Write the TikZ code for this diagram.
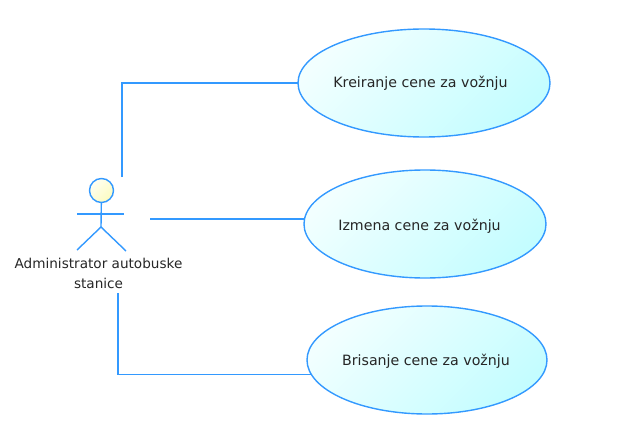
\documentclass[tikz,border=0pt]{standalone}
\usepackage{fontspec}
\setmainfont{DejaVu Sans}
\usetikzlibrary{shapes.geometric}
\definecolor{linec}{HTML}{3399FF}
\definecolor{ucA}{HTML}{F2FFFF}
\definecolor{ucB}{HTML}{C4FDFF}
\definecolor{headA}{HTML}{FFFFF2}
\definecolor{headB}{HTML}{FBFBC0}
\tikzset{
  x=1pt,y=-1pt,
  usecase/.style={ellipse,draw=linec,line width=1.4pt,inner sep=0pt,outer sep=0pt,
    top color=ucA,bottom color=ucB,shading angle=45},
  uctext/.style={font=\fontsize{14.2}{16}\selectfont,text=black!85,inner sep=0pt},
  wire/.style={draw=linec,line width=1.4pt},
  label/.style={font=\fontsize{13.6}{20}\selectfont,align=center,text=black!85,inner sep=0pt},
  head/.style={circle,draw=linec,line width=1.4pt,inner sep=0pt,outer sep=0pt,minimum size=24pt,
    top color=headA,bottom color=headB,shading angle=45},
}
\begin{document}
\begin{tikzpicture}
\useasboundingbox (0,0) rectangle (619,436);
\node[usecase,minimum width=252pt,minimum height=108pt] (u1) at (424,83) {};
\node[usecase,minimum width=242pt,minimum height=108pt] (u2) at (425,224) {};
\node[usecase,minimum width=240pt,minimum height=108pt] (u3) at (427,360) {};
\node[uctext] (t1) at (420.5,83) {Kreiranje cene za vožnju};
\node[uctext] (t2) at (419.5,226) {Izmena cene za vožnju};
\node[uctext] (t3) at (426,361) {Brisanje cene za vožnju};
\node[head] (head) at (101.5,190.5) {};
\coordinate (neck) at (101,227);
\coordinate (armL) at (77,214);
\coordinate (armR) at (124,214);
\coordinate (legL) at (77,250);
\coordinate (legR) at (126,251);
\draw[wire] (head) -- (neck);
\draw[wire] (armL) -- (armR);
\draw[wire] (legL) -- (neck) -- (legR);
\node[label] (actor) at (98.5,273) {Administrator autobuske\\stanice};
\coordinate (a1) at (122,177);
\coordinate (a2) at (150,219);
\coordinate (a3) at (118,293);
\draw[wire] (a1) |- (u1.west);
\draw[wire] (a2) -- (u2.west |- a2);
\draw[wire] (a3) |- (u3.187);
\end{tikzpicture}
\end{document}
